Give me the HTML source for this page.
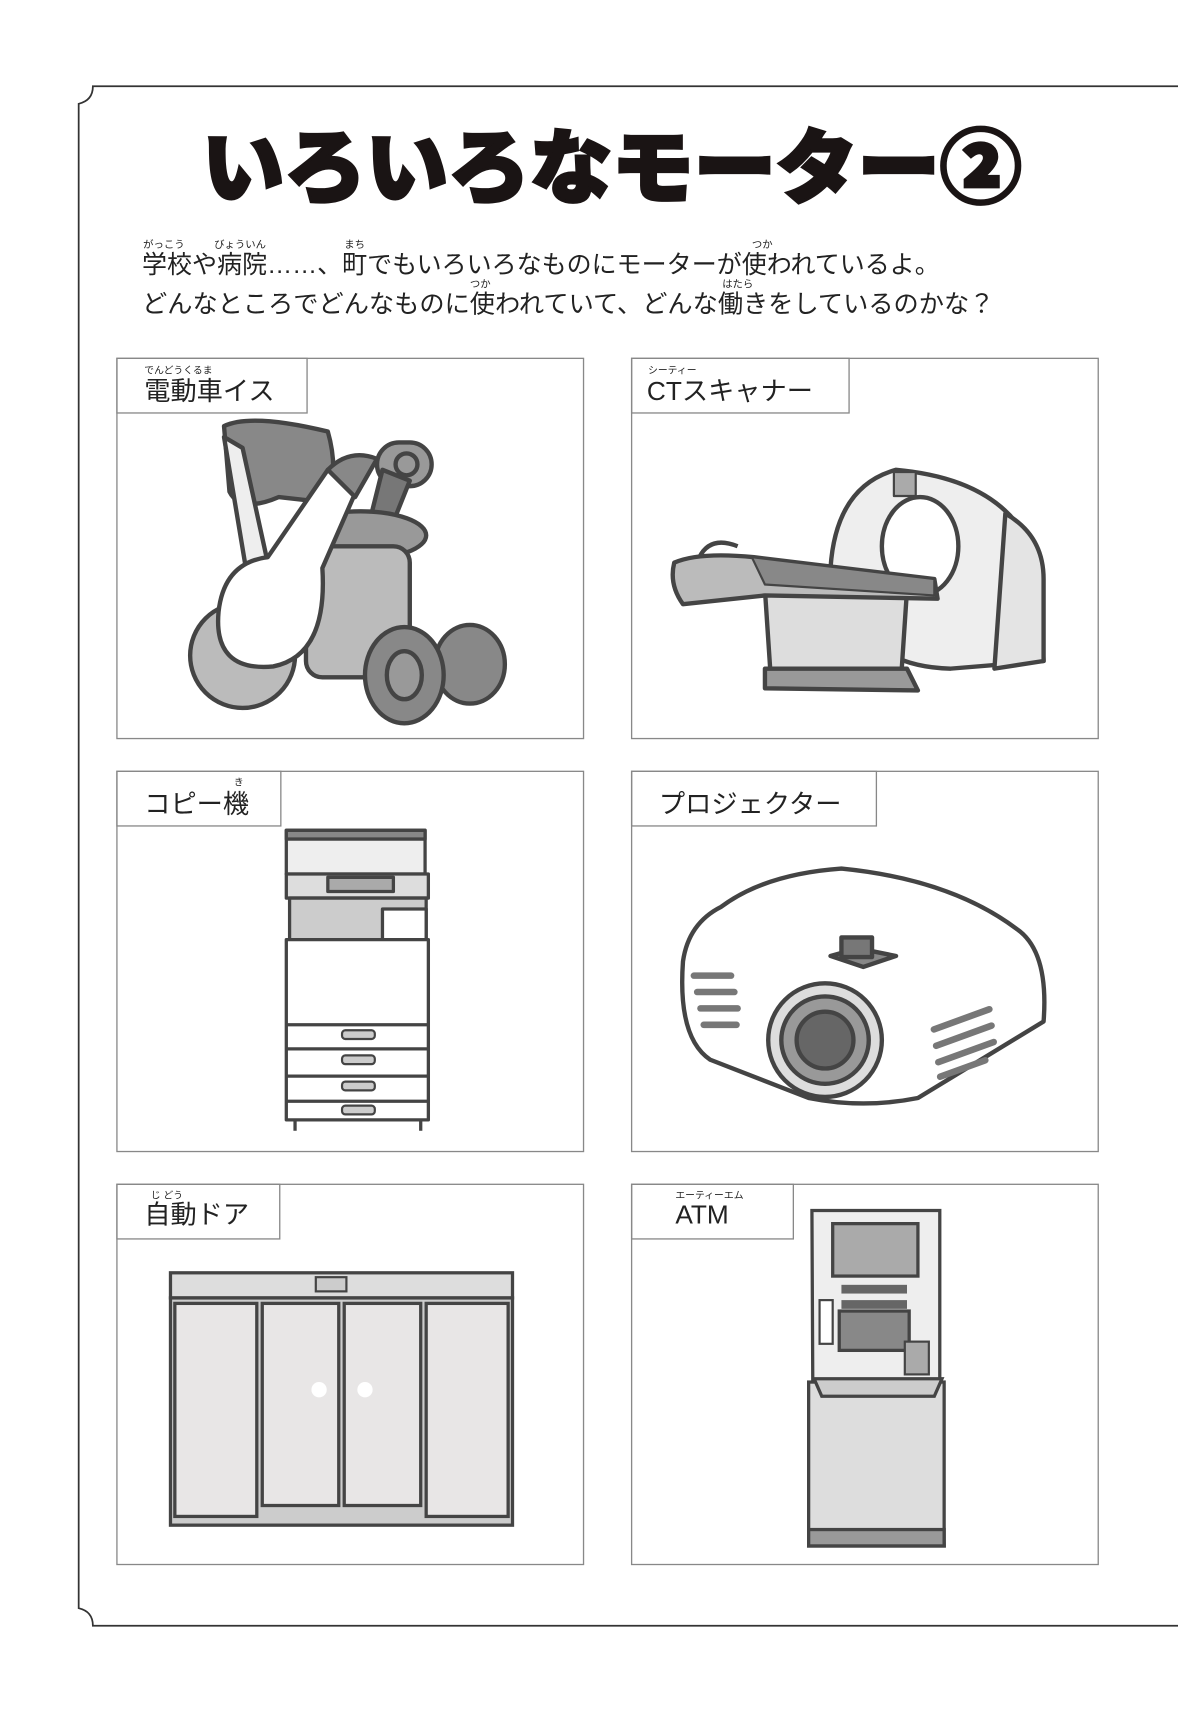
<!DOCTYPE html>
<html><head><meta charset="utf-8"><style>
html,body{margin:0;padding:0;background:#fff;}
svg{display:block;}
text{font-family:"Liberation Sans","Noto Sans CJK JP",sans-serif;fill:#222;}
</style></head><body>
<svg width="1178" height="1712" viewBox="0 0 1078 1567" preserveAspectRatio="none" xmlns="http://www.w3.org/2000/svg">
<rect width="1078" height="1567" fill="#fff"/>
<!-- page border -->
<path d="M1078 79 H85 Q85 92 72 95 V1472 Q85 1475 85 1488 H1078" fill="none" stroke="#333" stroke-width="1.6"/>
<!-- title -->
<text x="185" y="180" font-size="74" font-weight="900" textLength="750" lengthAdjust="spacingAndGlyphs" style="fill:#1a1414;stroke:#1a1414;stroke-width:3">いろいろなモーター②</text>
<!-- body text -->
<text x="130" y="250" font-size="23" textLength="730" lengthAdjust="spacingAndGlyphs">学校や病院……、町でもいろいろなものにモーターが使われているよ。</text>
<text font-size="9.5" y="227"><tspan x="131">がっこう</tspan><tspan x="196">びょういん</tspan><tspan x="315">まち</tspan><tspan x="688">つか</tspan></text>
<text x="130" y="286" font-size="23" textLength="780" lengthAdjust="spacingAndGlyphs">どんなところでどんなものに使われていて、どんな働きをしているのかな？</text>
<text font-size="9.5" y="263"><tspan x="430">つか</tspan><tspan x="661">はたら</tspan></text>

<g fill="none" stroke="#888" stroke-width="1.2">
<rect x="107" y="328" width="427" height="348"/><rect x="578" y="328" width="427" height="348"/>
<rect x="107" y="706" width="427" height="348"/><rect x="578" y="706" width="427" height="348"/>
<rect x="107" y="1084" width="427" height="348"/><rect x="578" y="1084" width="427" height="348"/>
<rect x="107" y="328" width="174" height="50"/><rect x="578" y="328" width="199" height="50"/>
<rect x="107" y="706" width="150" height="50"/><rect x="578" y="706" width="224" height="50"/>
<rect x="107" y="1084" width="149" height="50"/><rect x="578" y="1084" width="148" height="50"/>
</g>
<g font-size="24">
<text x="132" y="366">電動車イス</text><text x="592" y="366">CTスキャナー</text>
<text x="132" y="744">コピー機</text><text x="603" y="744">プロジェクター</text>
<text x="132" y="1120">自動ドア</text><text x="618" y="1120">ATM</text>
</g>
<g font-size="9">
<text x="132" y="342">でんどうくるま</text><text x="593" y="342">シーティー</text>
<text x="214" y="719">き</text><text x="138" y="1097">じ どう</text><text x="618" y="1097">エーティーエム</text>
</g>

<!-- wheelchair -->
<g stroke="#444" stroke-width="4" stroke-linejoin="round">
<path d="M205 390 Q230 378 300 395 Q310 430 300 460 L255 455 Q220 470 210 450 Z" fill="#888"/>
<path d="M205 400 L225 520 L245 515 L222 410 Z" fill="#eee"/>
<rect x="345" y="405" width="50" height="40" rx="20" fill="#999"/>
<path d="M350 430 L335 490 L355 490 L375 440 Z" fill="#777"/>
<ellipse cx="330" cy="490" rx="60" ry="22" fill="#999"/>
<rect x="280" y="500" width="95" height="120" rx="15" fill="#bbb"/>
<circle cx="222" cy="600" r="48" fill="#bbb"/>
<path d="M330 440 L295 520 Q300 600 250 610 Q195 615 200 560 Q205 515 245 510 L300 430 Q315 420 330 440 Z" fill="#fff"/>
<path d="M300 430 Q320 410 345 420 L325 455 Z" fill="#888"/>
<ellipse cx="430" cy="608" rx="32" ry="36" fill="#888"/>
<ellipse cx="370" cy="618" rx="36" ry="44" fill="#888"/>
<ellipse cx="370" cy="618" rx="16" ry="22" fill="#999"/>
<circle cx="372" cy="425" r="10" fill="#999"/>
</g>
<!-- CT -->
<g stroke="#444" stroke-width="4" stroke-linejoin="round">
<path d="M820 430 Q930 440 950 520 L955 605 L870 612 Q780 610 760 520 Q765 445 820 430 Z" fill="#eee"/>
<path d="M920 470 Q955 490 955 530 L955 605 L910 612 Z" fill="#e4e4e4"/>
<ellipse cx="842" cy="500" rx="35" ry="45" fill="#fff"/>
<rect x="818" y="432" width="20" height="22" fill="#aaa" stroke-width="2"/>
<path d="M700 540 L830 540 L825 615 L705 615 Z" fill="#ddd"/>
<path d="M700 612 L830 612 L840 632 L700 630 Z" fill="#999"/>
<path d="M617 515 Q640 505 690 510 L855 530 L858 548 L700 545 L625 553 Q612 535 617 515 Z" fill="#bbb"/>
<path d="M688 510 L855 530 L855 545 L700 535 Z" fill="#888" stroke-width="2"/>
<path d="M640 510 Q650 490 675 500" fill="none"/>
</g>
<!-- copier -->
<g stroke="#444" stroke-width="3" stroke-linejoin="round">
<rect x="262" y="760" width="127" height="40" fill="#eee"/>
<rect x="262" y="760" width="127" height="8" fill="#888"/>
<rect x="262" y="800" width="130" height="22" fill="#ddd"/>
<rect x="300" y="803" width="60" height="13" fill="#aaa"/>
<rect x="265" y="822" width="125" height="38" fill="#ccc"/>
<rect x="350" y="832" width="40" height="28" fill="#fff"/>
<rect x="262" y="860" width="130" height="165" fill="#fff"/>
<line x1="262" y1="938" x2="392" y2="938"/><line x1="262" y1="960" x2="392" y2="960"/>
<line x1="262" y1="985" x2="392" y2="985"/><line x1="262" y1="1008" x2="392" y2="1008"/>
<rect x="313" y="943" width="30" height="8" rx="3" fill="#ccc" stroke-width="2"/>
<rect x="313" y="966" width="30" height="8" rx="3" fill="#ccc" stroke-width="2"/>
<rect x="313" y="990" width="30" height="8" rx="3" fill="#ccc" stroke-width="2"/>
<rect x="313" y="1012" width="30" height="8" rx="3" fill="#ccc" stroke-width="2"/>
<line x1="270" y1="1025" x2="270" y2="1035"/><line x1="385" y1="1025" x2="385" y2="1035"/>
</g>
<!-- projector -->
<g stroke="#444" stroke-width="4" stroke-linejoin="round">
<path d="M660 830 Q700 800 770 795 Q870 805 930 850 Q960 870 955 935 L840 1005 Q790 1015 740 1005 L650 970 Q620 950 625 880 Q630 845 660 830 Z" fill="#fff"/>
<path d="M760 875 L785 868 L820 875 L790 885 Z" fill="#888"/>
<rect x="770" y="858" width="28" height="18" fill="#777"/>
<circle cx="755" cy="952" r="52" fill="#ddd"/>
<circle cx="755" cy="952" r="40" fill="#999"/>
<circle cx="755" cy="952" r="26" fill="#666"/>
<g fill="#777" stroke="none">
<rect x="632" y="890" width="40" height="6" rx="3"/><rect x="635" y="905" width="40" height="6" rx="3"/><rect x="638" y="920" width="40" height="6" rx="3"/><rect x="641" y="935" width="36" height="6" rx="3"/>
<rect x="850" y="930" width="60" height="6" rx="3" transform="rotate(-20 880 933)"/><rect x="852" y="945" width="60" height="6" rx="3" transform="rotate(-20 882 948)"/><rect x="854" y="960" width="60" height="6" rx="3" transform="rotate(-20 884 963)"/><rect x="856" y="975" width="50" height="6" rx="3" transform="rotate(-20 881 978)"/>
</g>
</g>
<!-- door -->
<g stroke="#444" stroke-width="3">
<rect x="156" y="1165" width="313" height="23" fill="#ddd"/>
<rect x="289" y="1169" width="28" height="13" fill="#ccc" stroke-width="2"/>
<rect x="156" y="1188" width="313" height="208" fill="#ccc"/>
<rect x="160" y="1193" width="75" height="195" fill="#e8e6e6"/>
<rect x="240" y="1193" width="70" height="185" fill="#e8e6e6"/>
<rect x="315" y="1193" width="70" height="185" fill="#e8e6e6"/>
<rect x="390" y="1193" width="75" height="195" fill="#e8e6e6"/>
<circle cx="292" cy="1272" r="7" fill="#fff" stroke="none"/><circle cx="334" cy="1272" r="7" fill="#fff" stroke="none"/>
</g>
<!-- ATM -->
<g stroke="#444" stroke-width="3">
<path d="M743 1108 H860 V1310 L864 1415 H740 L744 1310 Z" fill="#eee"/>
<rect x="740" y="1265" width="124" height="150" fill="#ddd"/>
<rect x="740" y="1400" width="124" height="15" fill="#999"/>
<rect x="762" y="1120" width="78" height="48" fill="#aaa"/>
<rect x="770" y="1176" width="60" height="8" fill="#666" stroke="none"/>
<rect x="770" y="1190" width="60" height="8" fill="#666" stroke="none"/>
<rect x="768" y="1200" width="64" height="36" fill="#888"/>
<rect x="750" y="1190" width="12" height="40" fill="#fff" stroke-width="2"/>
<rect x="828" y="1228" width="22" height="30" fill="#aaa" stroke-width="2"/>
<path d="M745 1262 H862 L855 1278 H752 Z" fill="#ccc"/>
</g>
</svg>
</body></html>
